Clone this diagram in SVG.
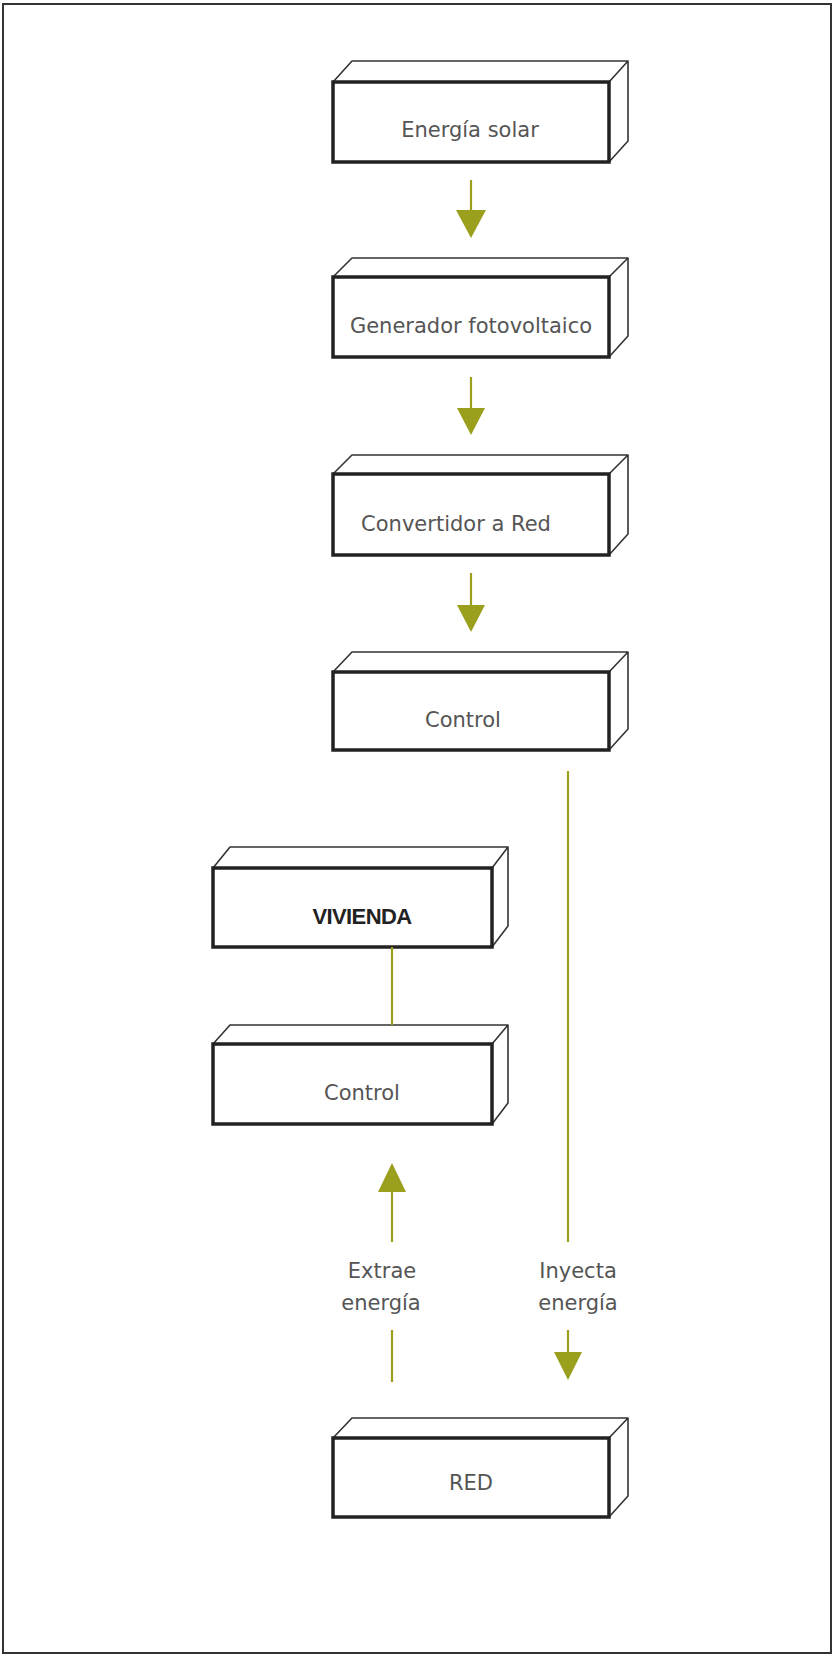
<svg xmlns="http://www.w3.org/2000/svg" width="833" height="1656" viewBox="0 0 833 1656">
<defs>
<style>
.front{fill:#fff;stroke:#222;stroke-width:3.5}
.back{fill:#fff;stroke:#333;stroke-width:1.6;stroke-linejoin:round}
.lbl{font-family:"DejaVu Sans",sans-serif;font-size:21px;fill:#555;text-anchor:middle}
.bold{font-family:"Liberation Sans",Arial,sans-serif;font-size:22px;font-weight:bold;fill:#222;text-anchor:middle;letter-spacing:-0.6px}
.line{stroke:#9aa01e;stroke-width:2.2;fill:none}
.head{fill:#9aa01e}
</style>
</defs>
<rect x="0" y="0" width="833" height="1656" fill="#fff"/>
<rect x="3" y="4" width="828" height="1649" fill="none" stroke="#333" stroke-width="2"/>

<g id="energia-solar">
<path class="back" d="M333,82 L352,61 L628,61 L609,82 Z M609,82 L628,61 L628,141 L609,162 Z"/>
<rect class="front" x="333" y="82" width="276" height="80"/>
<text class="lbl" x="470" y="137">Energía solar</text>
</g>

<g id="generador">
<path class="back" d="M333,277 L352,258 L628,258 L609,277 Z M609,277 L628,258 L628,336 L609,357 Z"/>
<rect class="front" x="333" y="277" width="276" height="80"/>
<text class="lbl" x="471" y="333">Generador fotovoltaico</text>
</g>

<g id="convertidor">
<path class="back" d="M333,474 L352,455 L628,455 L609,474 Z M609,474 L628,455 L628,534 L609,555 Z"/>
<rect class="front" x="333" y="474" width="276" height="81"/>
<text class="lbl" x="456" y="531">Convertidor a Red</text>
</g>

<g id="control1">
<path class="back" d="M333,672 L352,652 L628,652 L609,672 Z M609,672 L628,652 L628,729 L609,750 Z"/>
<rect class="front" x="333" y="672" width="276" height="78"/>
<text class="lbl" x="463" y="727">Control</text>
</g>

<g id="vivienda">
<path class="back" d="M213,868 L230,847 L508,847 L492,868 Z M492,868 L508,847 L508,926 L492,947 Z"/>
<rect class="front" x="213" y="868" width="279" height="79"/>
<text class="bold" x="362" y="924">VIVIENDA</text>
</g>

<g id="control2">
<path class="back" d="M213,1044 L230,1025 L508,1025 L492,1044 Z M492,1044 L508,1025 L508,1103 L492,1124 Z"/>
<rect class="front" x="213" y="1044" width="279" height="80"/>
<text class="lbl" x="362" y="1100">Control</text>
</g>

<g id="red">
<path class="back" d="M333,1438 L352,1418 L628,1418 L609,1438 Z M609,1438 L628,1418 L628,1496 L609,1517 Z"/>
<rect class="front" x="333" y="1438" width="276" height="79"/>
<text class="lbl" x="471" y="1490">RED</text>
</g>

<g id="connectors">
<line class="line" x1="471" y1="180" x2="471" y2="212"/>
<polygon class="head" points="456,210 486,210 471,238"/>
<line class="line" x1="471" y1="377" x2="471" y2="410"/>
<polygon class="head" points="457,408 485,408 471,435"/>
<line class="line" x1="471" y1="573" x2="471" y2="607"/>
<polygon class="head" points="457,605 485,605 471,632"/>
<line class="line" x1="568" y1="771" x2="568" y2="1242"/>
<line class="line" x1="568" y1="1330" x2="568" y2="1354"/>
<polygon class="head" points="554,1352 582,1352 568,1380"/>
<line class="line" x1="392" y1="947" x2="392" y2="1025"/>
<polygon class="head" points="378,1192 406,1192 392,1163"/>
<line class="line" x1="392" y1="1190" x2="392" y2="1242"/>
<line class="line" x1="392" y1="1330" x2="392" y2="1382"/>
</g>

<g id="labels">
<text class="lbl" x="382" y="1278">Extrae</text>
<text class="lbl" x="381" y="1310">energía</text>
<text class="lbl" x="578" y="1278">Inyecta</text>
<text class="lbl" x="578" y="1310">energía</text>
</g>
</svg>
